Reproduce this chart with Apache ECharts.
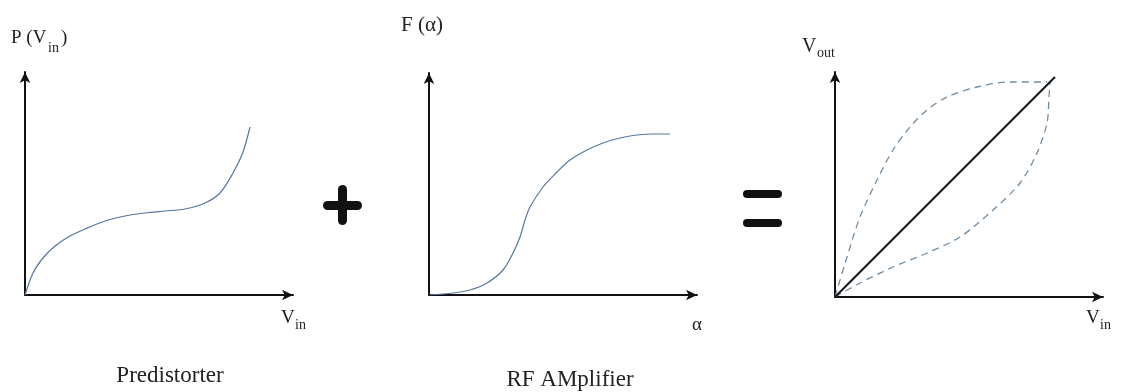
<!DOCTYPE html>
<html>
<head>
<meta charset="utf-8">
<script src="https://cdn.jsdelivr.net/npm/echarts@6/dist/echarts.min.js"></script>
<style>html,body{margin:0;padding:0;background:#fff}#c{width:1121px;height:392px}</style>
</head>
<body>
<div id="c"></div>
<script>
// Panel 1: Predistorter P(Vin)
const preX = [0, 8, 18, 30, 45, 60, 80, 100, 120, 140, 160, 180, 195, 208, 218, 225];
const preY = [0, 22, 37, 49, 59, 66, 74, 79, 82, 84, 86, 92, 102, 122, 143, 168];
// Panel 2: RF amplifier F(alpha)
const ampX = [0, 24, 41, 58, 74, 84, 91, 96, 101, 114, 128, 141, 158, 174, 191, 208, 224, 241];
const ampY = [0, 2, 5, 12, 25, 42, 58, 75, 88, 108, 123, 135, 145, 152, 157, 160, 161, 161];
// Panel 3: Vout vs Vin
const upX = [0, 12, 25, 42, 58, 75, 92, 112, 142, 175, 212];
const upY = [0, 40, 80, 117, 147, 170, 187, 200, 210, 215, 215];
const loX = [0, 25, 58, 92, 125, 158, 185, 202, 212, 214, 215];
const loY = [0, 14, 30, 44, 60, 87, 114, 144, 174, 200, 215];
const linX = [0, 220];
const linY = [0, 220];

const zip = (a, b) => a.map((v, i) => [v, b[i]]);
const serif = '"Liberation Serif", "DejaVu Serif", serif';

const axisCommon = {
  type: 'value', splitLine: {show: false}, axisTick: {show: false}, axisLabel: {show: false},
  axisLine: {show: true, onZero: false, symbol: ['none', 'arrow'], symbolSize: [8, 11],
    lineStyle: {color: '#111', width: 2}}
};
const grids = [
  {left: 25, top: 72, width: 268, height: 223},
  {left: 429, top: 73, width: 268, height: 222},
  {left: 835, top: 72, width: 268, height: 225}
];
const ranges = [[268, 223], [268, 222], [268, 225]];

const xAxis = ranges.map((r, i) => Object.assign({}, axisCommon, {gridIndex: i, min: 0, max: r[0]}));
const yAxis = ranges.map((r, i) => Object.assign({}, axisCommon, {gridIndex: i, min: 0, max: r[1]}));

function txt(x, y, text, size, align, va) {
  return {type: 'text', x: x, y: y, silent: true,
    style: {text: text, font: size + 'px ' + serif, fill: '#222', textAlign: align || 'left', textVerticalAlign: va || 'bottom'}};
}
function bar(x, y, w, h) {
  return {type: 'rect', silent: true, shape: {x: x, y: y, width: w, height: h, r: Math.min(w, h) / 2},
    style: {fill: '#111'}};
}

const lineBlue = {color: '#55779f', width: 1.2};
const dashBlue = {color: '#6f8ea6', width: 1.3, type: [7, 5]};

const chart = echarts.init(document.getElementById('c'));
chart.setOption({
  animation: false,
  grid: grids,
  xAxis: xAxis,
  yAxis: yAxis,
  series: [
    {type: 'line', xAxisIndex: 0, yAxisIndex: 0, data: zip(preX, preY), smooth: 0.3, symbol: 'none', lineStyle: lineBlue},
    {type: 'line', xAxisIndex: 1, yAxisIndex: 1, data: zip(ampX, ampY), smooth: 0.3, symbol: 'none', lineStyle: lineBlue},
    {type: 'line', xAxisIndex: 2, yAxisIndex: 2, data: zip(upX, upY), smooth: 0.3, symbol: 'none', lineStyle: dashBlue},
    {type: 'line', xAxisIndex: 2, yAxisIndex: 2, data: zip(loX, loY), smooth: 0.3, symbol: 'none', lineStyle: dashBlue},
    {type: 'line', xAxisIndex: 2, yAxisIndex: 2, data: zip(linX, linY), symbol: 'none', lineStyle: {color: '#111', width: 2}}
  ],
  graphic: [
    // panel 1 labels
    txt(11, 48, 'P (V', 19), txt(48, 55, 'in', 14), txt(61, 48, ')', 19),
    txt(281, 328, 'V', 19), txt(295, 332, 'in', 14),
    txt(170, 387, 'Predistorter', 23, 'center'),
    // panel 2 labels
    txt(401, 36, 'F (α)', 21),
    txt(692, 335, 'α', 19),
    txt(570, 391, 'RF AMplifier', 23, 'center'),
    // panel 3 labels
    txt(802, 57, 'V', 20), txt(817, 60, 'out', 14),
    txt(1086, 328, 'V', 19), txt(1100, 332, 'in', 14),
    // plus sign
    bar(323, 201, 39, 9), bar(338, 185, 9, 40),
    // equals sign
    bar(743, 190, 39, 8), bar(743, 219, 39, 8)
  ]
});
</script>
</body>
</html>
